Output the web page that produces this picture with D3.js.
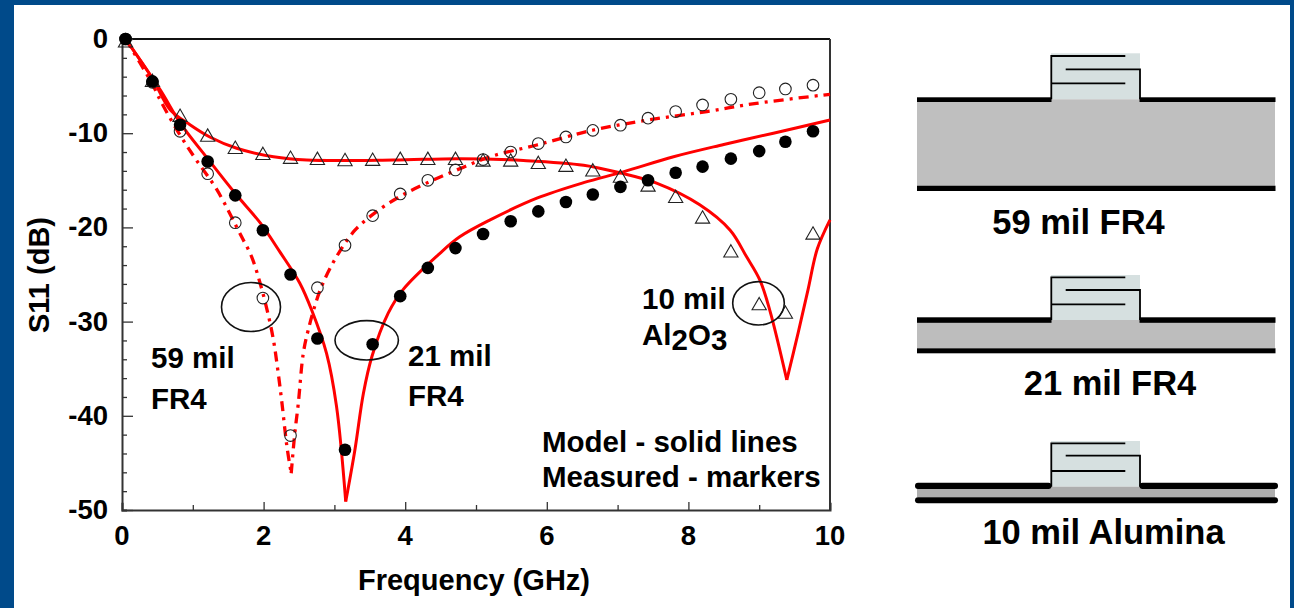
<!DOCTYPE html>
<html lang="en">
<head>
<meta charset="UTF-8">
<title>S11 vs Frequency</title>
<script src="https://d3js.org/d3.v7.min.js"></script>
<style>
  body { margin: 0; background: #004a8a; overflow: hidden; }
  svg { display: block; }
  text { font-family: 'Liberation Sans', Arial, sans-serif; font-weight: bold; fill: #000; }
</style>
</head>
<body>
<svg id="chart" width="1294" height="608"></svg>
<script>
// measured points, all three sets share the same frequency sweep
const freqs = [0.05,0.43,0.82,1.21,1.6,1.99,2.38,2.76,3.15,3.54,3.93,4.32,4.71,5.1,5.49,5.88,6.27,6.65,7.04,7.43,7.82,8.2,8.6,9,9.37,9.76];
const measured59 = [0,-4.6,-9.8,-14.3,-19.5,-27.5,-42.1,-26.4,-21.9,-18.75,-16.45,-15,-13.9,-12.8,-12,-11.1,-10.4,-9.7,-9.15,-8.4,-7.7,-7,-6.4,-5.7,-5.3,-4.9];
const measured21 = [0,-4.5,-9.1,-13,-16.6,-20.3,-25,-31.8,-43.6,-32.4,-27.3,-24.3,-22.2,-20.7,-19.35,-18.3,-17.3,-16.5,-15.7,-15,-14.2,-13.55,-12.7,-11.9,-10.9,-9.8];
const measured10 = [-0.2,-4.4,-8.1,-10.2,-11.5,-12.15,-12.55,-12.67,-12.8,-12.77,-12.67,-12.67,-12.67,-12.85,-12.85,-13.1,-13.4,-13.9,-14.55,-15.5,-16.7,-18.9,-22.5,-28.1,-29,-20.6];

// model curves, [GHz, dB]
const model59 = [[0.05,0],[0.43,-4.8],[0.54,-6.5],[0.82,-10.2],[1.05,-12.85],[1.34,-16],[1.69,-21],[1.83,-23.1],[1.95,-25.9],[2.06,-29.1],[2.14,-32],[2.2,-35.1],[2.26,-38.7],[2.33,-43.3],[2.39,-46.1],[2.44,-41.9],[2.49,-38.7],[2.56,-33.4],[2.63,-30.9],[2.75,-27.7],[2.84,-25.9],[3.03,-23.1],[3.29,-20.3],[3.6,-18.3],[3.93,-16.7],[4.3,-15.3],[4.73,-13.9],[5.2,-12.5],[5.86,-11.25],[6.66,-9.66],[7.43,-8.6],[8.26,-7.7],[8.96,-6.83],[10,-5.87]];
const model21 = [[0.05,0],[0.54,-5.4],[0.82,-8.9],[1.21,-12.7],[1.6,-16.4],[1.95,-19.5],[2.23,-22.6],[2.51,-25.9],[2.68,-28.8],[2.89,-33.4],[3.03,-39],[3.16,-49.1],[3.29,-43.6],[3.41,-37.6],[3.53,-33.7],[3.76,-29.1],[3.97,-26.6],[4.49,-22.75],[4.77,-21],[5.2,-19.2],[5.86,-16.9],[6.52,-15.25],[7.08,-14.1],[7.79,-12.5],[8.5,-11.2],[9.2,-10],[10,-8.6]];
const model10 = [[0.05,0],[0.43,-4.2],[0.68,-7.5],[0.96,-9.1],[1.24,-10.4],[1.62,-11.6],[2.14,-12.5],[2.61,-12.85],[3.83,-12.85],[4.77,-12.7],[5.67,-12.9],[6.52,-13.4],[7.03,-14.2],[7.55,-15.3],[8.16,-17.6],[8.59,-20.3],[8.82,-23.1],[9.01,-25.6],[9.15,-28.8],[9.39,-36.2],[9.55,-31.2],[9.69,-26.6],[9.82,-22.3],[10,-19.2]];

const xTicks = [0,2,4,6,8,10];
const yTicks = [0,-10,-20,-30,-40,-50];
const substrates = ["59 mil FR4","21 mil FR4","10 mil Alumina"];

const svg = d3.select("#chart");

// white page on the blue slide
svg.append("rect").attr("x",14).attr("y",5).attr("width",1276).attr("height",603).attr("fill","#fff");

const x = d3.scaleLinear().domain([0,10]).range([122,830]);
const y = d3.scaleLinear().domain([0,-50]).range([39,510]);

// frame
svg.append("line").attr("x1",x(0)).attr("x2",x(10)).attr("y1",y(0)).attr("y2",y(0)).attr("stroke","#111").attr("stroke-width",2);
svg.append("line").attr("x1",x(10)).attr("x2",x(10)).attr("y1",y(0)).attr("y2",y(-50)).attr("stroke","#333").attr("stroke-width",2);

const xAxis = svg.append("g").attr("transform",`translate(0,${y(-50)})`)
  .call(d3.axisTop(x).tickValues(d3.range(0,11)).tickSize(7).tickFormat(""));
xAxis.selectAll(".tick line").attr("y2",d => d % 2 ? -5 : -8);
const yAxis = svg.append("g").attr("transform",`translate(${x(0)},0)`)
  .call(d3.axisRight(y).tickValues(d3.range(0,-51,-2)).tickSize(5).tickFormat(""));
yAxis.selectAll(".tick line").attr("x2",d => d % 10 ? 5 : 11);
svg.selectAll("g .domain").attr("stroke","#333").attr("stroke-width",2);
svg.selectAll("g .tick line").attr("stroke","#333").attr("stroke-width",1.3);

svg.append("g").selectAll("text").data(xTicks).enter().append("text")
  .attr("x",d => x(d)).attr("y",545).attr("text-anchor","middle").style("font-size","27.5px").text(d => d);
svg.append("g").selectAll("text").data(yTicks).enter().append("text")
  .attr("x",108).attr("y",d => y(d)+9).attr("text-anchor","end").style("font-size","27.5px").text(d => d);

svg.append("text").attr("x",474).attr("y",590).attr("text-anchor","middle")
  .style("font-size","29px").text("Frequency (GHz)");
svg.append("text").attr("transform","translate(49,275) rotate(-90)").attr("text-anchor","middle")
  .style("font-size","29px").text("S11 (dB)");

// model lines, smooth on each side of the resonance so the tip stays sharp
const line = d3.line().x(d => x(d[0])).y(d => y(d[1])).curve(d3.curveCatmullRom.alpha(0.5));
[[model59,"10 6 3 6",3.3],[model21,null,3],[model10,null,3]].forEach(([data,dash,w]) => {
  const tip = d3.leastIndex(data,d => d[1]);
  [data.slice(0,tip+1),data.slice(tip)].forEach(part => {
    svg.append("path").datum(part).attr("d",line).attr("fill","none")
      .attr("stroke","#f00").attr("stroke-width",w).attr("stroke-dasharray",dash);
  });
});

// measured markers
svg.append("g").selectAll("path").data(measured10).enter().append("path")
  .attr("d",d3.symbol(d3.symbolTriangle,88))
  .attr("transform",(d,i) => `translate(${x(freqs[i])},${y(d)+2})`)
  .attr("fill","none").attr("stroke","#222").attr("stroke-width",1.1);
svg.append("g").selectAll("circle").data(measured59).enter().append("circle")
  .attr("cx",(d,i) => x(freqs[i])).attr("cy",d => y(d)).attr("r",5.8)
  .attr("fill","none").attr("stroke","#222").attr("stroke-width",1.1);
svg.append("g").selectAll("circle").data(measured21).enter().append("circle")
  .attr("cx",(d,i) => x(freqs[i])).attr("cy",d => y(d)).attr("r",6.3).attr("fill","#000");

// circles around the labelled curves
[[251,307,29.5,24.5],[366.7,340.3,31.7,19.7],[758.5,303.3,25.8,21.7]].forEach(e => {
  svg.append("ellipse").attr("cx",e[0]).attr("cy",e[1]).attr("rx",e[2]).attr("ry",e[3])
    .attr("fill","none").attr("stroke","#111").attr("stroke-width",1.6);
});

// labels inside the plot
function label(tx,ty,str) {
  return svg.append("text").attr("x",tx).attr("y",ty).style("font-size","29.5px").text(str);
}
label(151,368,"59 mil");
label(151,409,"FR4");
label(408,366,"21 mil");
label(408,406,"FR4");
label(642,309,"10 mil");
const al = label(642,345,"Al");
al.append("tspan").attr("dy",5).text("2");
al.append("tspan").attr("dy",-5).text("O");
al.append("tspan").attr("dy",5).text("3");
label(542,452,"Model - solid lines");
label(542,487,"Measured - markers");

// cross sections on the right
const sections = [
  {top:53.3, fa:56, fb:69.3, fc:83.3, boxEnd:99.3, trace:97.3, traceH:4.7, subEnd:185.7, baseH:5.3, grey:"#bfbfbf", ty:234, cx:1078.5, round:0},
  {top:275, fa:277.3, fb:290, fc:304.3, boxEnd:320, trace:317.3, traceH:5.5, subEnd:348.3, baseH:5, grey:"#bdbdbd", ty:395, cx:1110, round:0},
  {top:441, fa:443.3, fb:455.7, fc:471, boxEnd:486.7, trace:482.7, traceH:6.3, subEnd:497.3, baseH:6, grey:"#aeaeae", ty:544, cx:1103.5, round:3}
];
sections.forEach((s,i) => {
  const g = svg.append("g");
  g.append("rect").attr("x",1051).attr("y",s.top).attr("width",89).attr("height",s.boxEnd-s.top).attr("fill","#d6e0e0");
  g.append("rect").attr("x",917).attr("y",s.boxEnd).attr("width",358).attr("height",s.subEnd-s.boxEnd).attr("fill",s.grey);
  const bx = i === 2 ? 915 : 917, bw = i === 2 ? 363 : 358.5;
  g.append("rect").attr("x",bx).attr("y",s.trace).attr("width",1051.5-bx).attr("height",s.traceH).attr("rx",s.round);
  g.append("rect").attr("x",1139.5).attr("y",s.trace).attr("width",bx+bw-1139.5).attr("height",s.traceH).attr("rx",s.round);
  g.append("rect").attr("x",bx).attr("y",s.subEnd).attr("width",bw).attr("height",s.baseH).attr("rx",s.round);
  // interdigitated fingers
  const wire = d3.line();
  [[[1125.3,s.fa],[1051.3,s.fa],[1051.3,s.boxEnd]],
   [[1051.3,s.fc],[1125.3,s.fc]],
   [[1065.7,s.fb],[1140,s.fb],[1140,s.boxEnd]]].forEach(p => {
    g.append("path").attr("d",wire(p)).attr("fill","none").attr("stroke","#000").attr("stroke-width",1.8);
  });
  g.append("text").attr("x",s.cx).attr("y",s.ty).attr("text-anchor","middle")
    .style("font-size","34.5px").text(substrates[i]);
});
</script>
</body>
</html>
